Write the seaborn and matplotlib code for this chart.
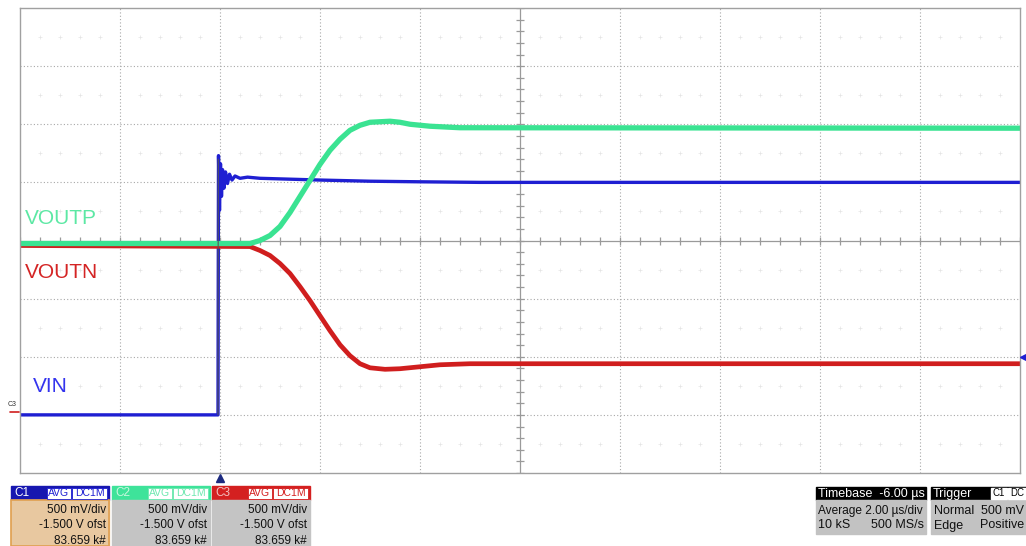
import numpy as np
import pandas as pd
import matplotlib
matplotlib.use("Agg")
import matplotlib.pyplot as plt
from matplotlib.patches import Rectangle
import seaborn as sns

# time in us (trigger at 0), level in V (500 mV/div, centre = 1.5 V)
vin_t = [-4.0, -0.04, -0.03, -0.01, 0.01, 0.03, 0.05, 0.08, 0.11, 0.15, 0.19,
         0.24, 0.30, 0.40, 0.55, 0.8, 1.2, 2.0, 3.0, 4.0, 5.2, 16.0]
vin_v = [0.0, 0.0, 2.23, 1.76, 2.16, 1.88, 2.11, 1.95, 2.09, 1.99, 2.07,
         2.02, 2.055, 2.035, 2.045, 2.035, 2.03, 2.02, 2.01, 2.005, 2.0, 2.0]

voutp_t = [-4.0, 0.6, 0.8, 1.0, 1.2, 1.4, 1.6, 1.8, 2.0, 2.2, 2.4, 2.6, 2.8,
           3.0, 3.4, 3.6, 3.8, 4.2, 4.8, 16.0]
voutp_v = [1.474, 1.474, 1.50, 1.543, 1.621, 1.741, 1.879, 2.017, 2.155, 2.276,
           2.371, 2.448, 2.491, 2.517, 2.526, 2.517, 2.50, 2.483, 2.47, 2.466]

voutn_t = [-4.0, 0.6, 0.8, 1.0, 1.2, 1.4, 1.6, 1.8, 2.0, 2.2, 2.4, 2.6, 2.8,
           3.0, 3.3, 3.6, 4.0, 4.4, 5.0, 16.0]
voutn_v = [1.457, 1.448, 1.414, 1.371, 1.302, 1.216, 1.103, 0.983, 0.853, 0.724,
           0.603, 0.509, 0.440, 0.405, 0.392, 0.397, 0.414, 0.431, 0.440, 0.440]

BLUE = "#1f1fd2"
GREEN = "#3ae392"
RED = "#d01e1e"

sns.set_style("white")
plt.rcParams['font.family'] = ['Liberation Sans', 'DejaVu Sans']

fig = plt.figure(figsize=(10.26, 5.46), dpi=100)
ax = fig.add_axes([20 / 1026, (546 - 473) / 546, 1000 / 1026, 465 / 546])

t0, t1 = -4.0, 16.0
v0, v1 = -0.5, 3.5
ax.set_xlim(t0, t1)
ax.set_ylim(v0, v1)

# graticule
for t in np.arange(t0 + 2, t1, 2.0):
    if t != 6:
        ax.axvline(t, color="#a8a8a8", lw=0.8, ls=(0, (1, 2)), zorder=0)
for v in np.arange(v0 + 0.5, v1, 0.5):
    if v != 1.5:
        ax.axhline(v, color="#a8a8a8", lw=0.8, ls=(0, (1, 2)), zorder=0)
ax.axhline(1.5, color="#9a9a9a", lw=0.9, zorder=0)
ax.axvline(6, color="#9a9a9a", lw=0.9, zorder=0)
ticks_x = np.arange(t0, t1 + 0.01, 0.4)
ax.plot(ticks_x, np.full_like(ticks_x, 1.5), ls="none", marker="|", ms=6,
        mew=0.9, color="#9a9a9a", zorder=0)
ticks_y = np.arange(v0, v1 + 0.01, 0.1)
ax.plot(np.full_like(ticks_y, 6.0), ticks_y, ls="none", marker="_", ms=6,
        mew=0.9, color="#9a9a9a", zorder=0)
# faint half-division marks
for v in np.arange(v0 + 0.25, v1, 0.5):
    xs = [x for x in np.arange(t0 + 0.4, t1, 0.4) if abs(x / 2 - round(x / 2)) > 0.01]
    ax.plot(xs, [v] * len(xs), ls="none", marker="+", ms=3, mew=0.5,
            color="#e4e4e4", zorder=0)

for s in ax.spines.values():
    s.set_color("#a0a0a0")
    s.set_linewidth(1.0)
ax.set_xticks([])
ax.set_yticks([])

sns.lineplot(x=vin_t, y=vin_v, ax=ax, color=BLUE, lw=2.4, estimator=None, sort=False)
sns.lineplot(x=voutn_t, y=voutn_v, ax=ax, color=RED, lw=3.4, estimator=None, sort=False)
sns.lineplot(x=voutp_t, y=voutp_v, ax=ax, color=GREEN, lw=3.8, estimator=None, sort=False)
ax.plot([-0.04, -0.035], [0.0, 2.2], color="#555555", lw=0.8, zorder=5)

# overlay in pixel coordinates
ov = fig.add_axes([0, 0, 1, 1], facecolor="none")
ov.set_xlim(0, 1026)
ov.set_ylim(546, 0)
ov.axis("off")

ov.text(25, 219, "VOUTP", color="#5ce8a4", fontsize=15, va="center")
ov.text(25, 273, "VOUTN", color="#d42424", fontsize=15, va="center")
ov.text(33, 387, "VIN", color="#3434ee", fontsize=15, va="center")
ov.text(8, 405, "C3", color="#333333", fontsize=5, va="center")
ov.plot([10, 19], [412, 412], color=RED, lw=1.2)
ov.plot([220], [478], marker="^", ms=6, color="#1c2a80", ls="none")
ov.plot([1023], [357], marker="<", ms=5, color=BLUE, ls="none")

channels = [("C1", 11, "#1717b0", "#ffffff", BLUE, "#e8c8a0"),
            ("C2", 112, "#3ee39a", "#c8f7de", "#6ee8b0", "#c4c4c4"),
            ("C3", 212, "#d42020", "#f2c0c0", "#d42020", "#c4c4c4")]
for name, x, hc, tc, bc, body in channels:
    w = 98
    ov.add_patch(Rectangle((x, 486), w, 14, color=hc))
    ov.add_patch(Rectangle((x, 500), w, 46, color=body))
    if name == "C1":
        ov.add_patch(Rectangle((x, 500), w, 46, fill=False, ec="#e0a050", lw=1.2))
    ov.text(x + 3, 493.5, name, color=tc, fontsize=8.5, va="center")
    ov.add_patch(Rectangle((x + 36, 487.5), 24, 11, fc="white", ec=bc, lw=0.6))
    ov.add_patch(Rectangle((x + 61, 487.5), 35, 11, fc="white", ec=bc, lw=0.6))
    ov.text(x + 48, 493.5, "AVG", color=bc, fontsize=7.5, va="center", ha="center")
    ov.text(x + 78.5, 493.5, "DC1M", color=bc, fontsize=7.5, va="center", ha="center")
    for yy, s in zip([510, 525.5, 541], ["500 mV/div", "-1.500 V ofst", "83.659 k#"]):
        ov.text(x + w - 3, yy, s, color="#111111", fontsize=8.5, va="center", ha="right")

ov.add_patch(Rectangle((816, 487), 110, 13, color="black"))
ov.add_patch(Rectangle((816, 500), 110, 34, color="#c2c2c2"))
ov.text(818, 493.5, "Timebase  -6.00 µs", color="white", fontsize=9, va="center")
ov.text(818, 511, "Average 2.00 µs/div", color="#111111", fontsize=8.6, va="center")
ov.text(818, 525.5, "10 kS", color="#111111", fontsize=9, va="center")
ov.text(924, 525.5, "500 MS/s", color="#111111", fontsize=9, va="center", ha="right")

ov.add_patch(Rectangle((931, 487), 95, 13, color="black"))
ov.add_patch(Rectangle((931, 500), 95, 34, color="#c2c2c2"))
ov.text(933, 493.5, "Trigger", color="white", fontsize=9, va="center")
ov.add_patch(Rectangle((991, 488), 16, 11, color="white"))
ov.add_patch(Rectangle((1008, 488), 18, 11, color="white"))
ov.text(999, 493.5, "C1", color="black", fontsize=7, va="center", ha="center")
ov.text(1017, 493.5, "DC", color="black", fontsize=7, va="center", ha="center")
ov.text(934, 511, "Normal", color="#111111", fontsize=9, va="center")
ov.text(1024, 511, "500 mV", color="#111111", fontsize=9, va="center", ha="right")
ov.text(1024, 525.5, "Positive", color="#111111", fontsize=9, va="center", ha="right")
ov.text(934, 525.5, "Edge", color="#111111", fontsize=9, va="center")

fig.savefig("out.png", dpi=100)
